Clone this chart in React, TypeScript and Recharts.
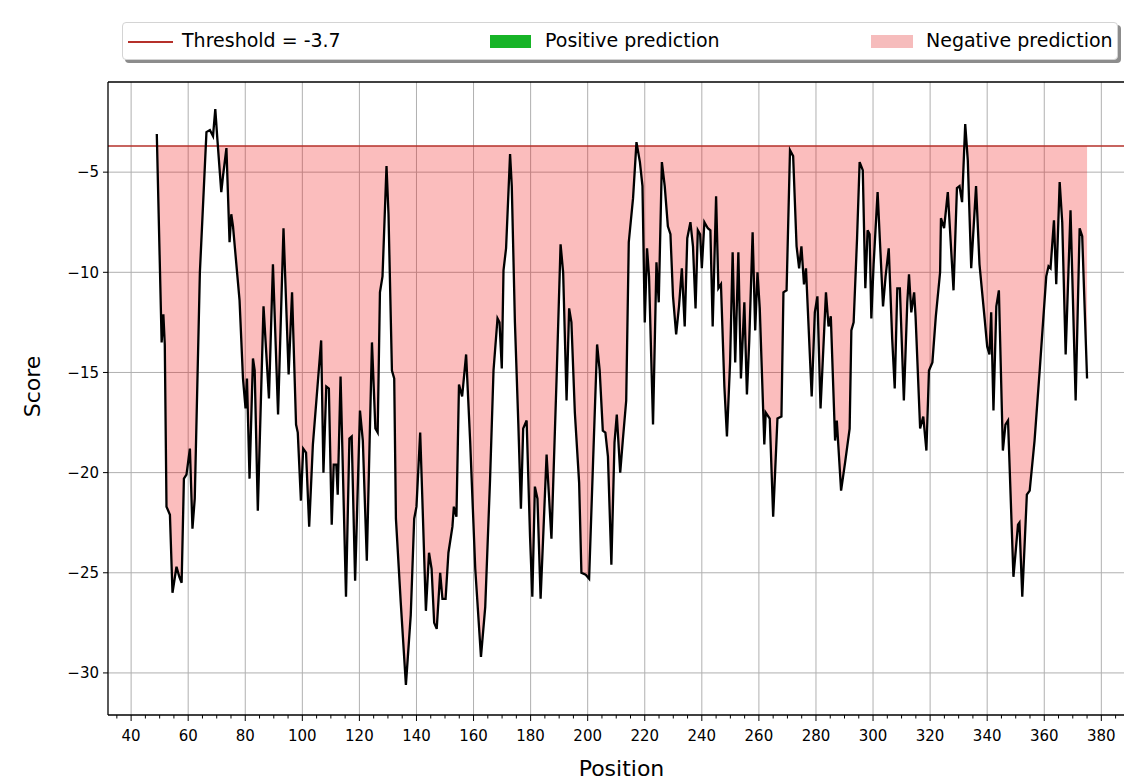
import React from 'react';
import {
  ComposedChart,
  Area,
  Line,
  XAxis,
  YAxis,
  CartesianGrid,
  ReferenceLine,
  Legend,
} from 'recharts';

// Per-residue prediction score along the sequence
const positions: number[] = [
  49, 50.7, 51.3, 51.8, 52.4, 53.6, 54.5, 55.9, 56.9, 57.7, 58.5, 59.4, 60.6, 61.5, 62.3, 64.1, 66.4, 67.6, 68.7, 69.5,
  70.2, 71.6, 72.2, 73.4, 74.5, 75.1, 75.7, 78.0, 79.2, 80.1, 80.6, 81.5, 82.7, 83.3, 84.4, 86.4, 88.3, 89.7, 91.5, 93.4,
  95.2, 96.4, 97.8, 98.4, 99.5, 100.3, 101.3, 102.4, 103.7, 106.6, 107.4, 108.4, 109.3, 110.3, 111.0, 111.9, 112.4, 113.4, 115.3, 116.5,
  117.3, 118.5, 120.2, 121.2, 122.6, 124.4, 125.6, 126.4, 127.2, 128.1, 129.5, 130.2, 131.4, 132.2, 132.8, 134.5, 136.3, 138.0, 139.2, 140.0,
  141.3, 142.1, 143.3, 144.4, 145.3, 146.2, 147.1, 148.3, 149.1, 150.2, 151.2, 152.6, 153.1, 154.0, 154.9, 156.0, 157.4, 158.8, 160.6, 162.6,
  164.1, 165.8, 167.0, 168.4, 169.1, 169.9, 170.5, 171.4, 172.8, 173.4, 174.5, 175.7, 176.6, 177.4, 178.6, 179.8, 180.6, 181.5, 182.4, 183.5,
  185.6, 187.3, 189.1, 190.5, 191.4, 192.6, 193.5, 194.3, 195.5, 197.0, 197.8, 199.3, 200.5, 201.9, 203.3, 204.2, 205.3, 206.2, 207.1, 208.3,
  209.4, 210.2, 211.4, 212.3, 213.5, 214.4, 215.9, 217.1, 218.3, 219.2, 220.0, 220.8, 221.5, 222.9, 224.1, 224.9, 226.0, 227.0, 228.1, 229.0,
  229.9, 231.0, 232.0, 233.0, 234.0, 234.9, 236.0, 236.9, 237.8, 238.6, 239.4, 240.0, 240.9, 242.1, 243.0, 243.8, 245.0, 245.8, 246.7, 247.9,
  248.8, 249.9, 250.8, 251.7, 252.8, 253.7, 254.9, 255.8, 256.6, 257.8, 258.7, 259.5, 260.3, 261.9, 262.4, 263.8, 265.0, 266.5, 267.9, 268.6,
  269.7, 270.9, 272.0, 273.2, 274.1, 274.9, 275.8, 276.5, 278.5, 279.6, 280.5, 281.6, 283.5, 284.4, 285.2, 286.7, 287.3, 288.8, 290.2, 291.8,
  292.4, 293.2, 294.4, 295.3, 296.4, 297.3, 298.1, 298.8, 299.4, 300.2, 301.6, 302.6, 303.5, 304.4, 305.5, 306.7, 307.6, 308.5, 309.4, 310.8,
  312.0, 312.6, 313.4, 314.4, 314.9, 316.5, 317.6, 318.7, 319.6, 320.8, 322.0, 323.5, 323.8, 324.9, 326.2, 328.2, 329.4, 330.3, 331.2, 332.3,
  333.2, 334.4, 336.1, 337.3, 339.1, 340.0, 340.8, 341.4, 342.2, 343.2, 344.1, 345.5, 346.4, 347.3, 349.2, 350.8, 351.3, 352.3, 353.9, 354.9,
  356.6, 358.4, 360.7, 361.5, 362.2, 363.4, 364.2, 365.4, 366.3, 367.5, 369.2, 371.0, 372.4, 373.3, 375,
];

const scores: number[] = [
  -3.1, -13.5, -12.1, -13.6, -21.7, -22.1, -26.0, -24.7, -25.2, -25.5, -20.3, -20.1, -18.8, -22.8, -21.3, -10.0, -3.0, -2.9, -3.2, -1.85,
  -3.3, -6.0, -5.2, -3.8, -8.5, -7.1, -7.7, -11.4, -15.3, -16.8, -15.3, -20.3, -14.3, -14.9, -21.9, -11.7, -16.3, -9.6, -17.1, -7.8,
  -15.1, -11.0, -17.6, -18.0, -21.4, -18.8, -19.0, -22.7, -18.6, -13.4, -20.0, -15.7, -15.8, -22.6, -19.6, -19.6, -21.1, -15.2, -26.2, -18.3,
  -18.2, -25.4, -16.9, -18.4, -24.4, -13.5, -17.8, -18.0, -11.0, -10.2, -4.7, -7.1, -14.9, -15.3, -22.3, -26.5, -30.6, -27.1, -22.3, -21.7,
  -18.0, -21.5, -26.9, -24.0, -24.8, -27.5, -27.8, -25.0, -26.3, -26.3, -24.0, -22.7, -21.7, -22.2, -15.6, -16.2, -14.1, -18.4, -24.8, -29.2,
  -26.7, -20.3, -14.9, -12.3, -12.5, -14.8, -9.9, -8.8, -4.1, -5.7, -12.5, -17.6, -21.8, -17.8, -17.4, -23.2, -26.2, -20.7, -21.3, -26.3,
  -19.1, -23.3, -15.3, -8.6, -10.0, -16.4, -11.8, -12.5, -17.0, -20.5, -25.0, -25.1, -25.3, -19.4, -13.6, -14.9, -17.9, -18.0, -19.2, -24.6,
  -18.5, -17.1, -20.0, -18.4, -16.4, -8.5, -6.3, -3.5, -4.5, -5.7, -12.5, -8.8, -10.2, -17.6, -9.5, -11.5, -4.5, -5.7, -7.7, -8.1,
  -11.2, -13.1, -11.7, -9.8, -12.7, -8.3, -7.5, -8.7, -11.8, -7.9, -8.1, -9.8, -7.5, -7.8, -7.9, -12.7, -6.2, -10.8, -10.6, -15.7,
  -18.2, -14.5, -9.0, -14.5, -9.0, -15.3, -11.5, -16.1, -13.5, -8.0, -12.9, -10.0, -11.8, -18.6, -17.0, -17.3, -22.2, -17.3, -17.2, -11.0,
  -10.9, -3.9, -4.2, -8.7, -9.8, -8.7, -10.6, -9.8, -16.2, -12.0, -11.2, -16.8, -11.0, -12.7, -12.2, -18.4, -17.4, -20.9, -19.5, -17.8,
  -12.9, -12.5, -8.3, -4.5, -4.9, -10.8, -7.9, -8.1, -12.3, -9.6, -6.0, -9.0, -11.7, -10.2, -8.8, -13.3, -15.8, -10.8, -10.8, -16.4,
  -11.5, -10.1, -12.0, -11.0, -12.2, -17.8, -17.2, -18.9, -14.9, -14.5, -12.2, -10.0, -7.3, -7.8, -6.0, -10.9, -5.8, -5.7, -6.5, -2.6,
  -4.4, -9.8, -5.7, -9.6, -12.3, -13.7, -14.1, -12.0, -16.9, -11.7, -10.9, -18.9, -17.6, -17.4, -25.2, -22.6, -22.5, -26.2, -21.1, -20.9,
  -18.4, -14.9, -10.2, -9.7, -9.8, -7.4, -10.6, -5.5, -7.5, -14.1, -6.9, -16.4, -7.8, -8.2, -15.3,
];

const THRESHOLD = -3.7;

const xMajorTicks: number[] = [40, 60, 80, 100, 120, 140, 160, 180, 200, 220, 240, 260, 280, 300, 320, 340, 360, 380];
const xAllTicks: number[] = [
  35, 40, 45, 50, 55, 60, 65, 70, 75, 80, 85, 90, 95, 100, 105, 110, 115, 120, 125, 130, 135, 140, 145, 150, 155, 160,
  165, 170, 175, 180, 185, 190, 195, 200, 205, 210, 215, 220, 225, 230, 235, 240, 245, 250, 255, 260, 265, 270, 275, 280,
  285, 290, 295, 300, 305, 310, 315, 320, 325, 330, 335, 340, 345, 350, 355, 360, 365, 370, 375, 380, 385, 390,
];
const yTicks: number[] = [-30, -25, -20, -15, -10, -5];

const X_DOMAIN: [number, number] = [31.9, 391.8];
const Y_DOMAIN: [number, number] = [-32.1, -0.5];

const FILL_RED = '#ee0000';
const THRESHOLD_COLOR = '#b5302a';
const POSITIVE_COLOR = '#17b427';
const NEGATIVE_PATCH = '#f6bcbc';

// Negative-prediction band: from the score up to the threshold where the score is below it
const rows = positions.map((p, i) => ({
  pos: p,
  score: scores[i],
  band: [Math.min(scores[i], THRESHOLD), THRESHOLD],
}));

const fmtMinus = (v: number) => (v < 0 ? `\u2212${Math.abs(v)}` : `${v}`);

const XTick = (props: any) => {
  const { x, y, payload } = props;
  const v = payload.value as number;
  const major = v % 20 === 0;
  return (
    <g>
      <line x1={x} x2={x} y1={y} y2={y + (major ? 6 : 3.5)} stroke="#000" strokeWidth={1} />
      {major && (
        <text x={x} y={y + 26} textAnchor="middle" fontSize={15} fill="#000">
          {v}
        </text>
      )}
    </g>
  );
};

const ScoreLabel = (props: any) => {
  const { viewBox } = props;
  const cx = viewBox.x - 16;
  const cy = viewBox.y + viewBox.height / 2 - 12;
  return (
    <text
      x={cx}
      y={cy}
      transform={`rotate(-90, ${cx}, ${cy})`}
      textAnchor="middle"
      dominantBaseline="central"
      fontSize={22}
      fill="#000"
    >
      Score
    </text>
  );
};

const LegendBox = () => (
  <div
    style={{
      position: 'relative',
      width: 996,
      height: 38,
      background: '#fff',
      border: '1px solid #d4d4d4',
      borderRadius: 4,
      boxShadow: '3px 3px 0 #8c8c8c',
      boxSizing: 'border-box',
      fontFamily: '"DejaVu Sans", sans-serif',
      fontSize: 19,
      color: '#000',
    }}
  >
    <div style={{ position: 'absolute', left: 5, top: 18, width: 45, height: 0, borderTop: `2px solid ${THRESHOLD_COLOR}` }} />
    <div style={{ position: 'absolute', left: 59, top: 6, whiteSpace: 'nowrap' }}>Threshold = -3.7</div>
    <div style={{ position: 'absolute', left: 367, top: 12, width: 41, height: 13, background: POSITIVE_COLOR }} />
    <div style={{ position: 'absolute', left: 422, top: 6, whiteSpace: 'nowrap' }}>Positive prediction</div>
    <div style={{ position: 'absolute', left: 748, top: 12, width: 42, height: 13, background: NEGATIVE_PATCH }} />
    <div style={{ position: 'absolute', left: 803, top: 6, whiteSpace: 'nowrap' }}>Negative prediction</div>
  </div>
);

export default function App() {
  return (
    <div
      style={{
        position: 'fixed',
        left: 0,
        top: 0,
        width: 1124,
        height: 780,
        overflow: 'hidden',
        background: '#fff',
        fontFamily: '"DejaVu Sans", sans-serif',
      }}
    >
      <ComposedChart
        width={1140}
        height={780}
        data={rows}
        margin={{ top: 82, right: 5, bottom: 4, left: 48 }}
      >
        <CartesianGrid
          stroke="#b0b0b0"
          strokeWidth={1}
          fill="#fff"
          verticalValues={xMajorTicks}
          horizontalValues={yTicks}
        />
        <XAxis
          type="number"
          dataKey="pos"
          domain={X_DOMAIN}
          allowDataOverflow
          ticks={xAllTicks}
          interval={0}
          height={61}
          tickSize={0}
          tickMargin={0}
          tickLine={false}
          tick={<XTick />}
          axisLine={{ stroke: '#000', strokeWidth: 1.3 }}
          label={{ value: 'Position', position: 'insideBottom', offset: 0, fontSize: 22, fill: '#000' }}
        />
        <YAxis
          type="number"
          domain={Y_DOMAIN}
          allowDataOverflow
          ticks={yTicks}
          interval={0}
          width={60}
          tickSize={5}
          tickMargin={4}
          tickFormatter={fmtMinus}
          tick={{ fontSize: 15, fill: '#000' }}
          tickLine={{ stroke: '#000' }}
          axisLine={{ stroke: '#000', strokeWidth: 1.3 }}
          label={<ScoreLabel />}
        />
        <Legend
          layout="horizontal"
          verticalAlign="middle"
          align="center"
          wrapperStyle={{ left: 122, top: 22, width: 996, height: 38 }}
          content={<LegendBox />}
        />
        <Area
          type="linear"
          dataKey="band"
          stroke="none"
          fill={FILL_RED}
          fillOpacity={0.26}
          isAnimationActive={false}
        />
        <ReferenceLine y={THRESHOLD} stroke={THRESHOLD_COLOR} strokeWidth={1.5} />
        <Line
          type="linear"
          dataKey="score"
          stroke="#000"
          strokeWidth={2.3}
          dot={false}
          isAnimationActive={false}
        />
        {/* top edge of the axes frame */}
        <ReferenceLine y={Y_DOMAIN[1]} stroke="#000" strokeWidth={1.5} />
      </ComposedChart>
    </div>
  );
}
